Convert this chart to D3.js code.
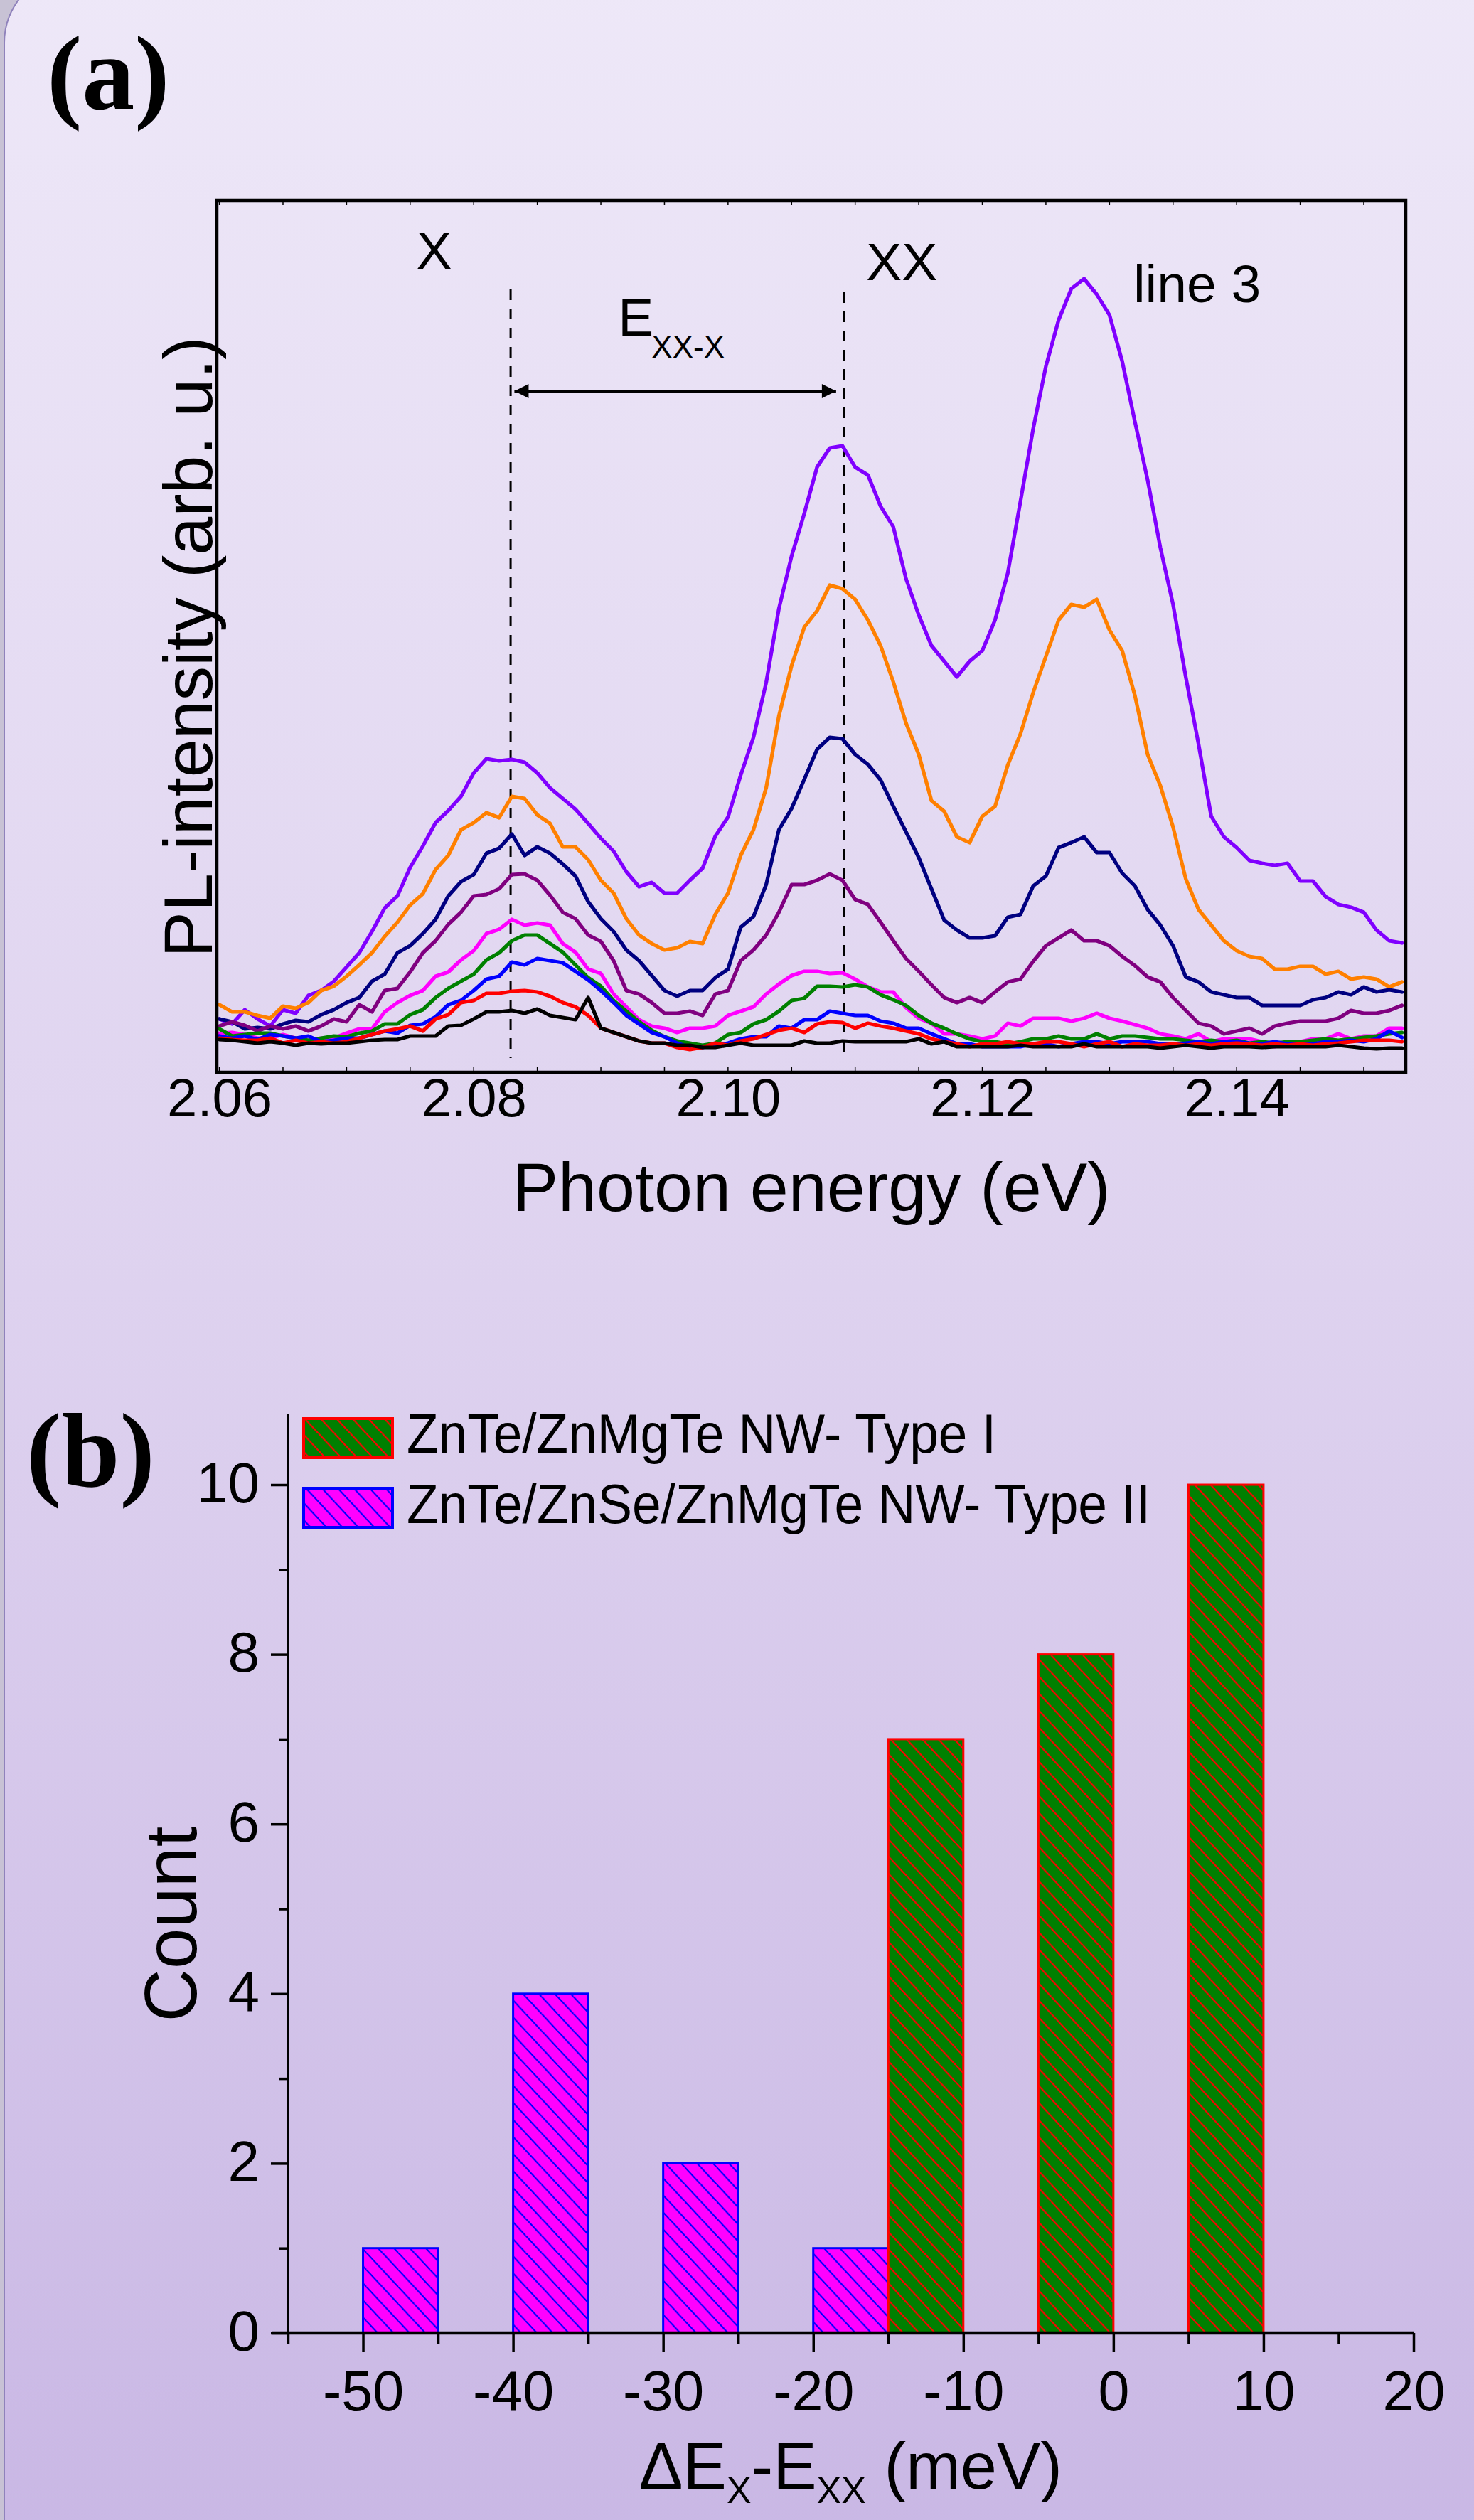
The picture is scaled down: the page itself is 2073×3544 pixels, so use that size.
<!DOCTYPE html>
<html><head><meta charset="utf-8">
<script src="https://cdn.jsdelivr.net/npm/d3@7"></script>
<style>body{margin:0;background:#c8c2d5;} svg{display:block}</style>
</head><body>
<svg id="fig" width="2073" height="3544"></svg>
<script>
// ---------- Panel (a) data: PL spectra (arb. u.) on a 1 meV grid starting at 2.060 eV ----------
const energyStart = 2.060, energyStep = 0.001;
const violet = [75,68,88,75,65,88,83,108,115,128,148,168,198,231,248,288,318,351,368,388,421,441,438,
 440,
 436,421,400,385,370,350,329,311,282,261,267,252,252,270,287,332,359,418,471,548,652,726,786,851,878,881,
 851,840,796,767,694,643,600,578,556,578,593,636,702,803,905,993,1058,1102,1116,1094,1065,1000,
 915,
 833,738,658,556,462,360,331,316,298,294,291,294,269,269,247,236,232,225,200,185,182];
const orange = [95,85,85,80,76,93,90,98,115,121,135,151,168,191,211,235,251,285,305,341,351,365,358,
 388,
 385,362,350,317,317,299,270,252,216,193,181,172,175,184,181,222,252,305,341,400,501,572,626,649,685,
 680,
 665,636,600,549,491,447,382,367,331,323,360,374,432,476,534,585,636,658,654,665,622,593,
 530,
 447,403,345,272,229,207,185,171,163,160,145,145,149,149,138,142,131,134,131,120,127];
const navy = [75,71,61,63,61,68,73,71,81,88,98,105,128,138,168,178,195,215,248,268,278,308,315,
 335,
 305,317,308,293,276,240,216,198,172,157,136,115,107,115,115,133,145,204,219,264,341,371,412,454,471,
 469,
 447,433,411,374,338,302,258,214,200,189,189,192,218,222,262,276,316,323,331,309,309,280,
 262,
 229,207,178,134,127,113,109,105,105,94,94,94,94,102,105,113,109,120,113,116,113];
const purple = [65,71,66,58,65,61,65,58,65,75,71,95,85,115,118,141,168,185,208,225,248,250,258,
 278,
 279,270,249,225,216,193,184,157,115,110,98,83,83,86,80,110,115,157,172,193,225,264,264,270,279,
 270,
 243,236,211,185,160,142,123,105,98,105,98,113,127,131,156,178,189,200,185,185,178,163,
 150,
 134,127,105,87,69,65,54,58,62,54,65,69,72,72,72,76,87,83,83,87,94];
const magenta = [55,56,53,48,48,53,48,45,48,48,55,61,61,85,98,108,115,135,141,158,171,195,201,
 215,
 207,210,207,181,169,145,139,110,92,74,65,62,56,62,62,65,80,86,92,110,124,136,142,142,139,
 140,
 131,120,113,113,91,76,69,54,54,51,47,51,69,65,76,76,76,72,76,83,76,72,
 67,
 62,54,51,47,54,43,47,47,47,43,36,43,43,47,47,54,47,51,51,62,62];
const green = [61,51,53,55,55,51,48,45,48,51,50,55,58,68,68,81,88,105,118,128,138,158,168,
 185,
 193,193,181,169,151,133,121,101,86,71,59,50,44,41,38,41,53,56,68,74,86,101,104,121,121,
 120,
 123,120,109,102,94,80,69,62,54,47,43,43,40,43,47,47,51,47,47,54,47,51,
 51,
 49,47,47,45,43,45,43,45,41,43,41,43,43,45,47,45,47,49,51,54,56];
const blue = [51,48,51,46,53,51,48,51,43,45,48,48,53,58,55,66,68,78,95,101,115,131,135,
 155,
 151,160,157,154,142,130,115,98,80,68,56,50,41,35,35,38,41,47,50,50,65,62,74,74,86,
 83,
 80,80,72,69,62,62,54,47,40,40,36,36,36,36,40,40,36,40,43,43,40,43,
 43,
 43,40,40,41,43,40,43,43,41,40,43,40,40,40,43,43,45,43,47,58,49];
const red = [48,46,45,45,48,41,45,41,43,41,43,48,53,58,61,65,58,75,81,98,101,111,111,
 114,
 115,113,107,98,92,80,62,56,50,44,41,41,35,32,35,41,38,44,47,53,59,62,56,68,71,
 70,
 62,69,65,62,58,54,47,43,40,36,40,40,43,40,40,43,43,40,36,40,43,36,
 40,
 38,38,40,38,40,38,40,41,40,38,40,38,40,38,40,41,43,45,45,45,43];
const black = [46,45,43,41,43,41,38,41,40,41,41,43,45,46,46,51,51,51,65,66,75,85,85,
 87,
 83,89,80,77,74,105,62,56,50,44,41,41,38,38,35,35,38,41,38,38,38,38,44,41,41,
 44,
 43,43,43,43,43,47,40,43,36,36,36,36,36,38,36,36,36,36,40,36,36,36,
 36,
 36,34,36,38,36,34,36,36,36,35,36,36,36,36,36,38,36,34,33,34,34];
const seriesNames  = ['violet','orange','navy','purple','magenta','green','blue','red','black'];
const seriesColors = ['#8000FF','#FF8000','#000080','#800080','#FF00FF','#008000','#0000FF','#FF0000','#000000'];
const seriesValues = [violet, orange, navy, purple, magenta, green, blue, red, black];
const xTicksA = [2.06, 2.08, 2.10, 2.12, 2.14];
const exitonX = 2.0829, biexcitonXX = 2.1091;   // dashed marker energies

// ---------- Panel (b) data: histogram ----------
const binWidth = 5;
const typeIIStarts = [-50, -40, -30, -20];
const typeIICounts = [1, 4, 2, 1];
const typeIStarts  = [-15, -5, 5];
const typeICounts  = [7, 8, 10];
const legendLabels = ['ZnTe/ZnMgTe NW- Type I', 'ZnTe/ZnSe/ZnMgTe NW- Type II'];
const xTicksB = [-50, -40, -30, -20, -10, 0, 10, 20];
const yTicksB = [0, 2, 4, 6, 8, 10];

// ---------- drawing ----------
const SANS = "'Liberation Sans', Arial, sans-serif";
const SERIF = "'Liberation Serif', 'Times New Roman', serif";
const svg = d3.select('#fig');
const defs = svg.append('defs');
const bg = defs.append('linearGradient').attr('id','bg').attr('x1',0).attr('y1',0).attr('x2',0).attr('y2',1);
bg.append('stop').attr('offset','0').attr('stop-color','#EEE8F8');
bg.append('stop').attr('offset','0.5').attr('stop-color','#DED2EF');
bg.append('stop').attr('offset','1').attr('stop-color','#C8B6E4');
svg.append('rect').attr('x',6).attr('y',-40).attr('width',2200).attr('height',3700).attr('rx',100)
  .attr('fill','url(#bg)').attr('stroke','#8f82bb').attr('stroke-width',2);

function hatch(id, fill, line){
  const p = defs.append('pattern').attr('id',id).attr('patternUnits','userSpaceOnUse')
    .attr('width',22.4).attr('height',24);
  p.append('rect').attr('width',22.4).attr('height',24).attr('fill',fill);
  p.append('path').attr('d','M-22.4,0L0,24M0,0L22.4,24M22.4,0L44.8,24')
    .attr('stroke',line).attr('stroke-width',2.2).attr('fill','none');
}
hatch('hGreen','#008000','#FF0000');
hatch('hPink','#FF00FF','#0000FF');

defs.append('marker').attr('id','arrow').attr('viewBox','0 0 10 10').attr('refX',10).attr('refY',5)
  .attr('markerUnits','userSpaceOnUse').attr('markerWidth',26).attr('markerHeight',20)
  .attr('orient','auto-start-reverse')
  .append('path').attr('d','M0,0L10,5L0,10Z').attr('fill','#000');

// ===== Panel (a) =====
const A = {left:305, right:1977, top:282, bottom:1508};
const xA = d3.scaleLinear().domain([2.0598, 2.1533]).range([A.left, A.right]);
const yA = d3.scaleLinear().domain([0, 1226]).range([A.bottom, A.top]);
const energies = d3.range(violet.length).map(i => +(energyStart + i*energyStep).toFixed(3));

defs.append('clipPath').attr('id','clipA').append('rect')
  .attr('x',A.left).attr('y',A.top).attr('width',A.right-A.left).attr('height',A.bottom-A.top);

const gA = svg.append('g');
// dashed markers
[exitonX, biexcitonXX].forEach((e,i)=>{
  gA.append('line').attr('x1',xA(e)).attr('x2',xA(e))
    .attr('y1',yA(i===0?1101:1097)).attr('y2',yA(20))
    .attr('stroke','#000').attr('stroke-width',3).attr('stroke-dasharray','15,12');
});
const line = d3.line().x((d,i)=>xA(energies[i])).y(d=>yA(d)).curve(d3.curveLinear);
const gLines = gA.append('g').attr('clip-path','url(#clipA)');
seriesValues.forEach((vals,i)=>{
  gLines.append('path').datum(vals).attr('d',line)
    .attr('fill','none').attr('stroke',seriesColors[i]).attr('stroke-width',5.2)
    .attr('stroke-linejoin','round').attr('stroke-linecap','round');
});
// arrow
gA.append('line').attr('x1',xA(2.0832)).attr('x2',xA(2.1085)).attr('y1',yA(958)).attr('y2',yA(958))
  .attr('stroke','#000').attr('stroke-width',4)
  .attr('marker-start','url(#arrow)').attr('marker-end','url(#arrow)');

// frame
gA.append('rect').attr('x',A.left).attr('y',A.top).attr('width',A.right-A.left).attr('height',A.bottom-A.top)
  .attr('fill','none').attr('stroke','#000').attr('stroke-width',4.5);
// minor ticks top/bottom
const minorA = d3.range(2.060, 2.1531, 0.005);
minorA.forEach(e=>{
  gA.append('line').attr('x1',xA(e)).attr('x2',xA(e)).attr('y1',A.bottom).attr('y2',A.bottom-7)
    .attr('stroke','#000').attr('stroke-width',1.5);
  gA.append('line').attr('x1',xA(e)).attr('x2',xA(e)).attr('y1',A.top).attr('y2',A.top+7)
    .attr('stroke','#000').attr('stroke-width',1.5);
});
// x axis labels
const axA = gA.append('g').attr('transform',`translate(0,${A.bottom})`)
  .call(d3.axisBottom(xA).tickValues(xTicksA).tickFormat(d3.format('.2f')).tickSize(0));
axA.select('.domain').remove();
axA.selectAll('text').attr('y',62).attr('dy',0).attr('font-size',76).attr('font-family',SANS).attr('fill','#000');

// annotation texts
const txt = (g,x,y,s,size,anchor) => g.append('text').attr('x',x).attr('y',y).text(s)
  .attr('font-family',SANS).attr('font-size',size).attr('text-anchor',anchor||'start').attr('fill','#000');
txt(gA, xA(2.07548), yA(1130), 'X', 75);
txt(gA, xA(2.11087), yA(1114), 'XX', 75);
txt(gA, xA(2.13188), yA(1083), 'line 3', 75);
txt(gA, xA(2.09136), yA(1036), 'E', 75);
txt(gA, xA(2.09136)+47, yA(1005), 'XX-X', 44);

// axis titles
txt(svg, (A.left+A.right)/2, 1703, 'Photon energy (eV)', 97, 'middle');
svg.append('text').attr('transform',`translate(298,${(A.top+A.bottom)/2+15}) rotate(-90)`)
  .attr('text-anchor','middle').attr('font-family',SANS).attr('font-size',97).text('PL-intensity (arb. u.)');

svg.append('text').attr('x',66).attr('y',153).attr('font-family',SERIF).attr('font-weight','bold')
  .attr('font-size',148).text('(a)');

// ===== Panel (b) =====
const B = {left:405, right:1988, top:1989, bottom:3281};
const xB = d3.scaleLinear().domain([-55, 20]).range([B.left, B.right]);
const yB = d3.scaleLinear().domain([0, 10.83]).range([B.bottom, B.top]);
const gB = svg.append('g');

function bars(starts, counts, pat, stroke){
  gB.selectAll(null).data(starts.map((s,i)=>({s, c:counts[i]}))).enter().append('rect')
    .attr('x',d=>xB(d.s)).attr('width',d=>xB(d.s+binWidth)-xB(d.s))
    .attr('y',d=>yB(d.c)).attr('height',d=>yB(0)-yB(d.c))
    .attr('fill',`url(#${pat})`).attr('stroke',stroke).attr('stroke-width',3);
}
bars(typeIIStarts, typeIICounts, 'hPink', '#0000FF');
bars(typeIStarts, typeICounts, 'hGreen', '#FF0000');

// axes
const yAx = gB.append('g').attr('transform',`translate(${B.left},0)`)
  .call(d3.axisLeft(yB).tickValues(yTicksB).tickSize(24).tickPadding(16));
yAx.select('.domain').remove();
yAx.selectAll('line').attr('stroke','#000').attr('stroke-width',3.5);
yAx.selectAll('text').attr('dy',0).attr('y',24).attr('font-size',80).attr('font-family',SANS).attr('fill','#000');
const yMinor = gB.append('g').attr('transform',`translate(${B.left},0)`)
  .call(d3.axisLeft(yB).tickValues([1,3,5,7,9]).tickSize(13).tickFormat(''));
yMinor.select('.domain').remove();
yMinor.selectAll('line').attr('stroke','#000').attr('stroke-width',3.5);
gB.append('line').attr('x1',B.left).attr('x2',B.left).attr('y1',B.top).attr('y2',B.bottom)
  .attr('stroke','#000').attr('stroke-width',3.5);

const xAx = gB.append('g').attr('transform',`translate(0,${B.bottom})`)
  .call(d3.axisBottom(xB).tickValues(xTicksB).tickSize(27).tickFormat(d3.format('d')));
xAx.select('.domain').remove();
xAx.selectAll('line').attr('stroke','#000').attr('stroke-width',3.5);
xAx.selectAll('text').attr('y',109).attr('dy',0).attr('font-size',79).attr('font-family',SANS).attr('fill','#000')
  .text(d=>String(d).replace('\u2212','-'));
const xMinor = gB.append('g').attr('transform',`translate(0,${B.bottom})`)
  .call(d3.axisBottom(xB).tickValues(d3.range(-55, 20, 10)).tickSize(16).tickFormat(''));
xMinor.select('.domain').remove();
xMinor.selectAll('line').attr('stroke','#000').attr('stroke-width',3.5);
gB.append('line').attr('x1',383).attr('x2',B.right).attr('y1',B.bottom).attr('y2',B.bottom)
  .attr('stroke','#000').attr('stroke-width',4.5);

// legend
const legPats = ['hGreen','hPink'], legStroke = ['#FF0000','#0000FF'], legLen = [829, 1046];
legendLabels.forEach((lab,i)=>{
  const y0 = 1995 + i*98;
  gB.append('rect').attr('x',427).attr('y',y0).attr('width',125).attr('height',55)
    .attr('fill',`url(#${legPats[i]})`).attr('stroke',legStroke[i]).attr('stroke-width',4);
  txt(gB, 572, 2043 + i*99, lab, 78).attr('textLength',legLen[i]).attr('lengthAdjust','spacingAndGlyphs');
});

// titles
svg.append('text').attr('transform',`translate(276,2706) rotate(-90)`)
  .attr('text-anchor','middle').attr('font-family',SANS).attr('font-size',103).text('Count');
const tb = svg.append('text').attr('x',(B.left+B.right)/2).attr('y',3500).attr('text-anchor','middle')
  .attr('font-family',SANS).attr('font-size',92).attr('fill','#000');
tb.append('tspan').text('\u0394E');
tb.append('tspan').attr('dy',20).attr('font-size',52).text('X');
tb.append('tspan').attr('dy',-20).text('-E');
tb.append('tspan').attr('dy',20).attr('font-size',52).text('XX');
tb.append('tspan').attr('dy',-20).text(' (meV)');

svg.append('text').attr('x',37).attr('y',2090).attr('font-family',SERIF).attr('font-weight','bold')
  .attr('font-size',148).text('(b)');
</script>
</body></html>
